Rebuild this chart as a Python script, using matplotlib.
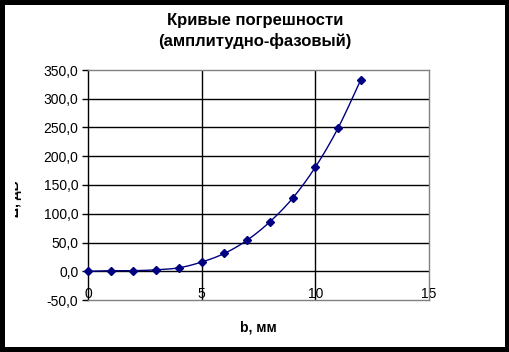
import numpy as np
import matplotlib.pyplot as plt
from matplotlib.patches import Rectangle
from matplotlib.transforms import Bbox, TransformedBbox

plt.rcParams['font.family'] = ['Liberation Sans', 'DejaVu Sans']

# data
b_mm = [0, 1, 2, 3, 4, 5, 6, 7, 8, 9, 10, 11, 12]
error_db = [0.0, 1.0, 1.0, 2.5, 6.0, 16.0, 31.0, 54.0, 86.0, 127.0, 181.0, 249.0, 333.0]

y_ticks = [-50, 0, 50, 100, 150, 200, 250, 300, 350]
y_tick_labels = ['-50,0', '0,0', '50,0', '100,0', '150,0', '200,0', '250,0', '300,0', '350,0']
x_ticks = [0, 5, 10, 15]
x_tick_labels = ['0', '5', '10', '15']


def smooth_line(xs, ys, steps=12):
    # Catmull-Rom style smoothing, like the spreadsheet "smoothed line" option
    px = np.array(xs, dtype=float)
    py = np.array(ys, dtype=float)
    px = np.concatenate([[px[0]], px, [px[-1]]])
    py = np.concatenate([[py[0]], py, [py[-1]]])
    out_x, out_y = [], []
    t = np.linspace(0, 1, steps, endpoint=False)
    for i in range(1, len(px) - 2):
        p0, p1, p2, p3 = [np.array([px[j], py[j]]) for j in (i - 1, i, i + 1, i + 2)]
        c1 = p1 + (p2 - p0) / 6
        c2 = p2 - (p3 - p1) / 6
        for tt in t:
            pt = ((1 - tt) ** 3) * p1 + 3 * ((1 - tt) ** 2) * tt * c1 \
                + 3 * (1 - tt) * tt ** 2 * c2 + tt ** 3 * p2
            out_x.append(pt[0])
            out_y.append(pt[1])
    out_x.append(xs[-1])
    out_y.append(ys[-1])
    return out_x, out_y


fig = plt.figure(figsize=(5.1, 3.52), dpi=100, facecolor='white')
ax = fig.add_axes([88 / 510, 1 - 300 / 352, (429 - 88) / 510, (300 - 70) / 352])

sx, sy = smooth_line(b_mm, error_db)
ax.plot(sx, sy, color='#000080', linewidth=1, zorder=5, clip_on=False)
ax.plot(b_mm, error_db, color='#000080', linestyle='none', marker='D', markersize=4,
        zorder=6, clip_on=False)

ax.set_xlim(0, 15)
ax.set_ylim(-50, 350)

# grid: black horizontal lines at every y tick, vertical at 5 and 10
for y in y_ticks[1:-1]:
    ax.axhline(y, color='black', linewidth=1, zorder=1)
for x in x_ticks[1:-1]:
    ax.axvline(x, color='black', linewidth=1, zorder=1)

for side in ['top', 'right', 'bottom']:
    ax.spines[side].set_color('#808080')
    ax.spines[side].set_linewidth(1)
ax.spines['left'].set_color('black')
ax.spines['left'].set_linewidth(1)

ax.set_yticks(y_ticks)
ax.set_yticklabels(y_tick_labels, fontsize=10)
ax.tick_params(axis='y', length=4, width=1, pad=3, colors='black')

ax.set_xticks(x_ticks)
ax.set_xticklabels(x_tick_labels, fontsize=10)
ax.tick_params(axis='x', length=0, pad=-9.5)

ax.set_xlabel('b, мм', fontsize=10, fontweight='bold', labelpad=14)

fig.text(255 / 510, 1 - 31 / 352, 'Кривые погрешности\n(амплитудно-фазовый)',
         ha='center', va='center', fontsize=12, fontweight='bold', linespacing=1.35)

# y label is cut off on its left side in the original chart
ylab = fig.text(15 / 510, 1 - 199 / 352, 'Δ, дБ', rotation=90, ha='center', va='center',
                fontsize=10, fontweight='bold')
ylab.set_clip_box(TransformedBbox(Bbox([[15 / 510, 0], [1, 1]]), fig.transFigure))
ylab.set_clip_on(True)

# black frame round the chart
for (x0, y0, w, h) in [(0, 0, 5, 352), (505, 0, 5, 352), (0, 0, 510, 5), (0, 347, 510, 5)]:
    fig.patches.append(Rectangle((x0 / 510, 1 - (y0 + h) / 352), w / 510, h / 352,
                                 transform=fig.transFigure, facecolor='black',
                                 edgecolor='none', zorder=10))

fig.savefig('out.png', dpi=100, facecolor='white')
